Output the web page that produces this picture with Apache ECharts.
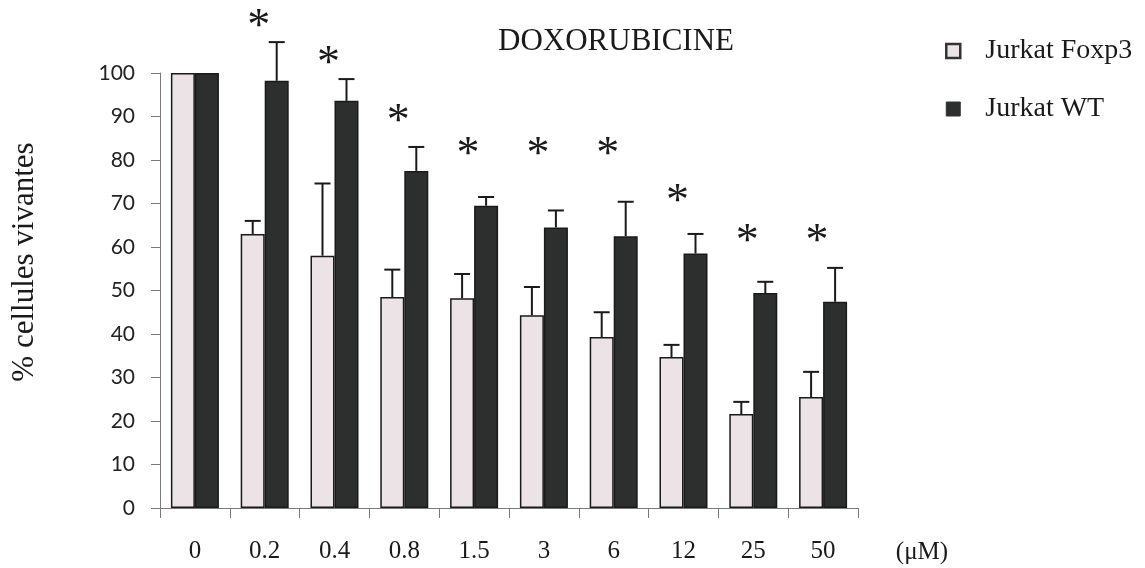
<!DOCTYPE html>
<html>
<head>
<meta charset="utf-8">
<script src="https://cdn.jsdelivr.net/npm/echarts@6/dist/echarts.min.js"></script>
<style>
  html, body { margin: 0; padding: 0; background: #fff; }
  #chart { width: 1145px; height: 568px; }
</style>
</head>
<body>
<div id="chart"></div>
<script>
// Doses (µM)
const doses = ['0', '0.2', '0.4', '0.8', '1.5', '3', '6', '12', '25', '50'];

// Mean % of living cells
const foxp3Mean = [100, 63, 58, 48.5, 48.2, 44.3, 39.3, 34.7, 21.6, 25.5];
const wtMean    = [100, 98.2, 93.6, 77.5, 69.5, 64.5, 62.5, 58.5, 49.4, 47.4];

// Upper end of the error bars (mean + SD)
const foxp3Upper = [null, 66, 74.6, 54.8, 53.8, 50.8, 45, 37.5, 24.4, 31.3];
const wtUpper    = [null, 107.1, 98.6, 83, 71.5, 68.4, 70.4, 63, 52, 55.2];

// Significance markers: dose index and height of the asterisk
const starDose   = [1, 2, 3, 4, 5, 6, 7, 8, 9];
const starHeight = [112.2, 103.7, 90.3, 82.8, 82.8, 82.8, 72, 62.8, 62.8];

const yTicks = { min: 0, max: 100, step: 10 };

const BAR_W = 24;
const SERIF = '"Liberation Serif", "Times New Roman", serif';
const LIGHT = '#ebe3e6';
const DARK = '#2c2f2e';

const chart = echarts.init(document.getElementById('chart'), null, { renderer: 'canvas' });

function errorSeries(name, means, uppers, offset) {
  return {
    type: 'custom',
    name: name + ' err',
    clip: false,
    z: 5,
    silent: true,
    data: means.map((m, i) => [i, m, uppers[i]]).filter(d => d[2] != null),
    encode: { x: 0, y: [1, 2] },
    renderItem: function (params, api) {
      const top = api.coord([api.value(0), api.value(1)]);
      const hi = api.coord([api.value(0), api.value(2)]);
      const x = top[0] + offset;
      const half = 8;
      const st = { stroke: '#1a1a1a', lineWidth: 2 };
      return {
        type: 'group',
        children: [
          { type: 'line', shape: { x1: x, y1: top[1], x2: x, y2: hi[1] }, style: st },
          { type: 'line', shape: { x1: x - half, y1: hi[1], x2: x + half, y2: hi[1] }, style: st }
        ]
      };
    }
  };
}

const option = {
  animation: false,
  backgroundColor: '#ffffff',
  grid: { left: 160, right: 287, top: 73, bottom: 60, containLabel: false },
  legend: {
    orient: 'vertical',
    left: 940,
    top: 32,
    icon: 'rect',
    itemWidth: 14,
    itemHeight: 14,
    itemGap: 30,
    data: [
      { name: 'Jurkat Foxp3', itemStyle: { borderColor: '#333', borderWidth: 2.5 } },
      { name: 'Jurkat WT', itemStyle: { borderColor: '#333', borderWidth: 1 } }
    ],
    textStyle: { fontFamily: SERIF, fontSize: 28, color: '#1a1a1a', padding: [0, 0, 0, 20] }
  },
  xAxis: {
    type: 'category',
    data: doses,
    axisLine: { lineStyle: { color: '#7a7a7a', width: 1 } },
    axisTick: { show: true, length: 10, lineStyle: { color: '#7a7a7a' } },
    axisLabel: { fontFamily: SERIF, fontSize: 25, color: '#1a1a1a', margin: 31 },
    splitLine: { show: false }
  },
  yAxis: {
    type: 'value',
    min: yTicks.min,
    max: yTicks.max,
    interval: yTicks.step,
    axisLine: { show: true, lineStyle: { color: '#7a7a7a', width: 1 } },
    axisTick: { show: true, length: 9, lineStyle: { color: '#7a7a7a' } },
    axisLabel: { fontFamily: 'Lato, "Open Sans", sans-serif', fontSize: 21, color: '#222', margin: 25 },
    splitLine: { show: false }
  },
  graphic: [
    {
      type: 'text', x: 616, y: 42,
      style: { text: 'DOXORUBICINE', font: '31px ' + SERIF, fill: '#1a1a1a', textAlign: 'center', textVerticalAlign: 'middle' }
    },
    {
      type: 'text', x: 25, y: 262, rotation: Math.PI / 2,
      style: { text: '% cellules vivantes', font: '31px ' + SERIF, fill: '#1a1a1a', textAlign: 'center', textVerticalAlign: 'middle' }
    },
    {
      type: 'text', x: 922, y: 552,
      style: { text: '(\u03bcM)', font: '25px ' + SERIF, fill: '#1a1a1a', textAlign: 'center', textVerticalAlign: 'middle' }
    }
  ],
  series: [
    {
      name: 'Jurkat Foxp3',
      type: 'bar',
      data: foxp3Mean,
      barWidth: BAR_W,
      barGap: '0%',
      itemStyle: { color: LIGHT, borderColor: '#1a1a1a', borderWidth: 1.5 }
    },
    {
      name: 'Jurkat WT',
      type: 'bar',
      data: wtMean,
      barWidth: BAR_W,
      barGap: '0%',
      itemStyle: { color: DARK, borderColor: '#1a1a1a', borderWidth: 1.5 }
    },
    errorSeries('Jurkat Foxp3', foxp3Mean, foxp3Upper, -BAR_W / 2),
    errorSeries('Jurkat WT', wtMean, wtUpper, BAR_W / 2),
    {
      name: 'signif',
      type: 'custom',
      clip: false,
      silent: true,
      z: 6,
      data: starDose.map((d, i) => [d, starHeight[i]]),
      encode: { x: 0, y: 1 },
      renderItem: function (params, api) {
        const p = api.coord([api.value(0), api.value(1)]);
        return {
          type: 'text',
          x: p[0] - 6,
          y: p[1] + 8,
          style: { text: '*', font: '46px ' + SERIF, fill: '#1a1a1a', textAlign: 'center', textVerticalAlign: 'middle' }
        };
      }
    }
  ]
};

chart.setOption(option);
</script>
</body>
</html>
